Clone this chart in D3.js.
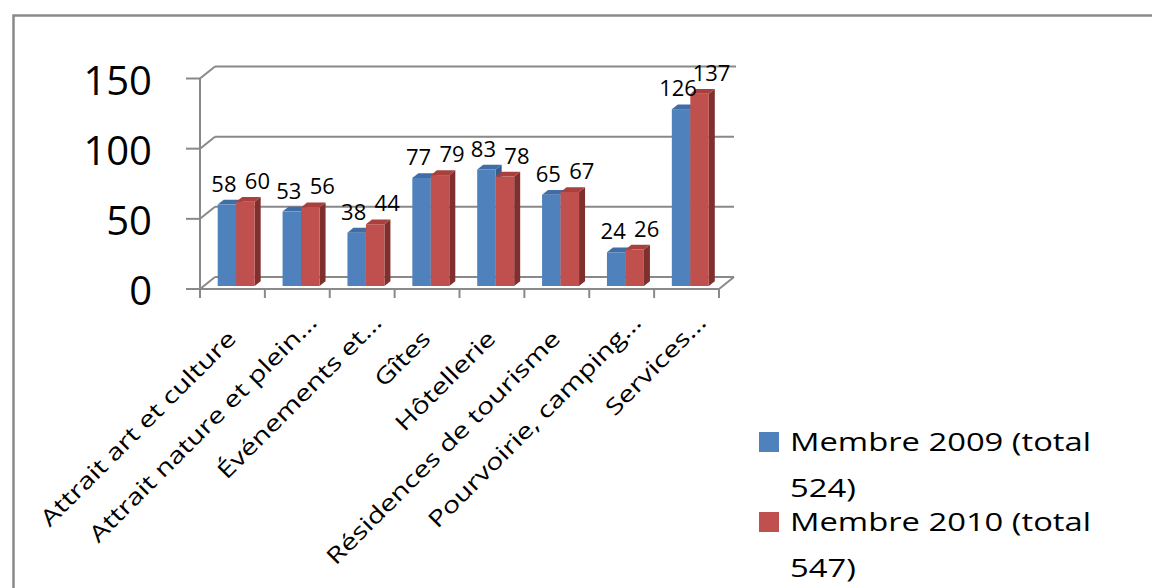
<!DOCTYPE html>
<html>
<head>
<meta charset="utf-8">
<script src="https://cdn.jsdelivr.net/npm/d3@7"></script>
<style>
  body { margin: 0; background: #fff; }
  text { font-family: "Open Sans", sans-serif; fill: #000; }
</style>
</head>
<body>
<svg id="chart" width="1152" height="588"></svg>
<script>
// data
var categories = [
  "Attrait art et culture",
  "Attrait nature et plein…",
  "Événements et…",
  "Gîtes",
  "Hôtellerie",
  "Résidences de tourisme",
  "Pourvoirie, camping…",
  "Services…"
];
var members2009 = [58, 53, 38, 77, 83, 65, 24, 126];
var members2010 = [60, 56, 44, 79, 78, 67, 26, 137];
var legendLines = [["Membre 2009 (total", "524)"], ["Membre 2010 (total", "547)"]];
var yTicks = [0, 50, 100, 150];

var seriesValues = [members2009, members2010];
var colors = [
  { front: "#4f81bd", top: "#3f6ea6", side: "#385d8a" },
  { front: "#c0504d", top: "#a9403d", side: "#7f2f2d" }
];

var svg = d3.select("#chart");
var gray = "#898989";

// 3d depth of the walls
var DX = 15, DY = -12;
var barShift = 0.25, barDepth = 0.4;
var stretch = 1.28;

// outer frame (runs off the right and bottom of the picture)
svg.append("rect")
  .attr("x", 13.5).attr("y", 15.5)
  .attr("width", 1300).attr("height", 700)
  .attr("fill", "none")
  .attr("stroke", "#8a8a8a")
  .attr("stroke-width", 2.5);

var x0 = d3.scaleBand()
  .domain(categories)
  .range([200, 719])
  .paddingInner(0.43)
  .paddingOuter(0.215);

var x1 = d3.scaleBand()
  .domain([0, 1])
  .range([0, x0.bandwidth()]);

var y = d3.scaleLinear().domain([0, 150]).range([289, 78.5]);

var left = x0.range()[0], right = x0.range()[1];
var axes = svg.append("g")
  .attr("stroke", gray)
  .attr("stroke-width", 2)
  .attr("fill", "none");

// back wall gridlines with the small diagonals to the front axis
yTicks.forEach(function(t) {
  axes.append("line")
    .attr("x1", left + DX).attr("y1", y(t) + DY)
    .attr("x2", right + DX + (t == 150 ? 2 : 0)).attr("y2", y(t) + DY);
  axes.append("line")
    .attr("x1", left).attr("y1", y(t))
    .attr("x2", left + DX).attr("y2", y(t) + DY);
  axes.append("line")
    .attr("x1", left - 14).attr("y1", y(t))
    .attr("x2", left).attr("y2", y(t));
});

// floor right edge
axes.append("line")
  .attr("x1", right).attr("y1", y(0))
  .attr("x2", right + DX).attr("y2", y(0) + DY);

// front axes
axes.append("line")
  .attr("x1", left).attr("y1", y(150))
  .attr("x2", left).attr("y2", y(0));
axes.append("line")
  .attr("x1", left).attr("y1", y(0))
  .attr("x2", right).attr("y2", y(0));

d3.range(categories.length + 1).forEach(function(i) {
  var bx = left + i * x0.step();
  axes.append("line")
    .attr("x1", bx).attr("y1", y(0))
    .attr("x2", bx).attr("y2", y(0) + 9);
});

// y tick labels
svg.append("g")
  .selectAll("text")
  .data(yTicks)
  .enter()
  .append("text")
  .attr("x", 152)
  .attr("y", function(d) { return y(d) + 2; })
  .attr("dy", "0.36em")
  .attr("text-anchor", "end")
  .attr("font-size", "40px")
  .text(function(d) { return d; });

// bars
var bars = svg.append("g");
var labels = [];
categories.forEach(function(c, i) {
  seriesValues.forEach(function(vals, s) {
    var v = vals[i];
    var bx = x0(c) + x1(s) + barShift * DX;
    var w = x1.bandwidth();
    var yt = y(v) + barShift * DY;
    var yb = y(0) + barShift * DY;
    var ddx = barDepth * DX, ddy = barDepth * DY;
    var col = colors[s];

    bars.append("polygon")
      .attr("points", [[bx + w, yt], [bx + w + ddx, yt + ddy], [bx + w + ddx, yb + ddy], [bx + w, yb]].join(" "))
      .attr("fill", col.side);
    bars.append("rect")
      .attr("x", bx).attr("y", yt)
      .attr("width", w).attr("height", yb - yt)
      .attr("fill", col.front);
    bars.append("polygon")
      .attr("points", [[bx, yt], [bx + ddx, yt + ddy], [bx + w + ddx, yt + ddy], [bx + w, yt]].join(" "))
      .attr("fill", col.top);

    labels.push({ x: bx + w / 2 + (s == 0 ? -3 : 12), y: yt - 13, v: v });
  });
});

svg.append("g")
  .selectAll("text")
  .data(labels)
  .enter()
  .append("text")
  .attr("x", function(d) { return d.x; })
  .attr("y", function(d) { return d.y; })
  .attr("text-anchor", "middle")
  .attr("font-size", "22px")
  .text(function(d) { return d.v; });

// category labels, rotated -45, truncated ones sit further along
svg.append("g")
  .selectAll("text")
  .data(categories)
  .enter()
  .append("text")
  .attr("text-anchor", "end")
  .attr("font-size", "22.5px")
  .attr("transform", function(d) {
    var cx = x0(d) + x0.bandwidth() / 2 + 5;
    var cy = 340;
    if (d.endsWith("…")) { cx += 16; cy -= 16; }
    return "translate(" + cx + "," + cy + ") rotate(-45) scale(" + stretch + ",1)";
  })
  .text(function(d) { return d; });

// legend
var legend = svg.append("g");
legendLines.forEach(function(lines, s) {
  var top = 432 + s * 80;
  legend.append("rect")
    .attr("x", 759).attr("y", top)
    .attr("width", 20).attr("height", 20)
    .attr("fill", colors[s].front);
  lines.forEach(function(line, k) {
    legend.append("text")
      .attr("font-size", "25px")
      .attr("transform", "translate(790," + (top + 19 + k * 46) + ") scale(1.31,1)")
      .text(line);
  });
});
</script>
</body>
</html>
